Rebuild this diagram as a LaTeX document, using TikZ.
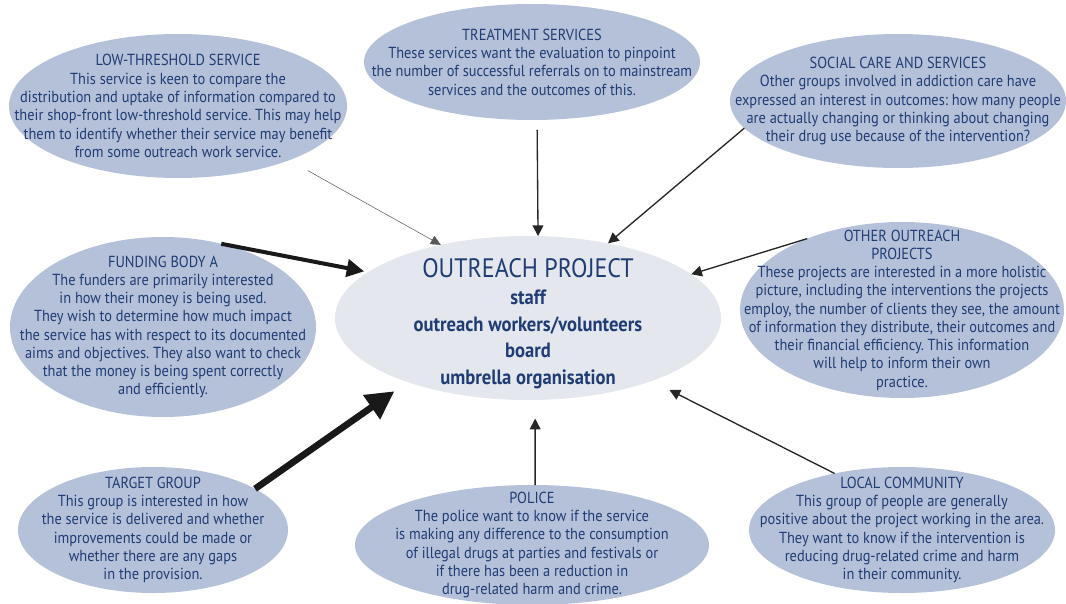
\documentclass[tikz,border=0pt]{standalone}
\usepackage{fontspec}
\setmainfont[FakeStretch=0.9]{PT Sans}
\usetikzlibrary{shapes.geometric,arrows.meta}
\definecolor{ink}{RGB}{31,60,116}
\definecolor{bubblefill}{RGB}{181,193,216}
\definecolor{hubfill}{RGB}{228,231,238}
\frenchspacing
\begin{document}
\begin{tikzpicture}[x=0.75pt,y=-0.75pt,
  bubble/.style={ellipse,fill=bubblefill,inner sep=0pt,outer sep=0pt},
  txt/.style={text=ink,align=center,font=\fontsize{12}{13.7}\selectfont},
  faint/.style={-{Triangle[length=7.5pt,width=7pt]},line width=0.4pt,draw=black!65},
  plain/.style={-{Triangle[length=8pt,width=8pt]},line width=1pt,draw=black!85},
  heavy/.style={-{Triangle[length=13pt,width=13pt]},line width=3pt,draw=black!90},
  heavier/.style={-{Triangle[length=21pt,width=21pt]},line width=5pt,draw=black!90}]
\useasboundingbox (0,0) rectangle (1066,603);
\node[bubble,minimum width=253.5pt,minimum height=108pt] (low) at (178,106) {};
\node[bubble,minimum width=252pt,minimum height=87pt] (treat) at (532,62) {};
\node[bubble,minimum width=252pt,minimum height=100.5pt] (social) at (898,101) {};
\node[bubble,minimum width=229.5pt,minimum height=135pt] (fund) at (163,327) {};
\node[bubble,fill=hubfill,minimum width=289.5pt,minimum height=123pt] (hub) at (528,318) {};
\node[bubble,minimum width=243pt,minimum height=132pt] (other) at (902,310) {};
\node[bubble,minimum width=202.5pt,minimum height=94.5pt] (target) at (153,530) {};
\node[bubble,minimum width=265.5pt,minimum height=90pt] (police) at (532,545) {};
\node[bubble,minimum width=229.5pt,minimum height=94.5pt] (local) at (902,530) {};
\node[txt] (lowtext) at (low) {LOW-THRESHOLD SERVICE\\This service is keen to compare the\\distribution and uptake of information compared to\\their shop-front low-threshold service. This may help\\them to identify whether their service may benefit\\from some outreach work service.};
\node[txt] (treattext) at (treat) {TREATMENT SERVICES\\These services want the evaluation to pinpoint\\the number of successful referrals on to mainstream\\services and the outcomes of this.};
\node[txt] (socialtext) at (social) {SOCIAL CARE AND SERVICES\\Other groups involved in addiction care have\\expressed an interest in outcomes: how many people\\are actually changing or thinking about changing\\their drug use because of the intervention?};
\node[txt] (fundtext) at (fund) {FUNDING BODY A\\The funders are primarily interested\\in how their money is being used.\\They wish to determine how much impact\\the service has with respect to its documented\\aims and objectives. They also want to check\\that the money is being spent correctly\\and efficiently.};
\node[txt,font=\fontsize{15.5}{20}\selectfont\bfseries] (hubtext) at ([yshift=-4.5pt]hub.center) {{\fontsize{20}{20}\mdseries\selectfont OUTREACH PROJECT}\\staff\\outreach workers/volunteers\\board\\umbrella organisation};
\node[txt] (othertext) at (other) {OTHER OUTREACH\\PROJECTS\\These projects are interested in a more holistic\\picture, including the interventions the projects\\employ, the number of clients they see, the amount\\of information they distribute, their outcomes and\\their financial efficiency. This information\\will help to inform their own\\practice.};
\node[txt] (targettext) at (target) {TARGET GROUP\\This group is interested in how\\the service is delivered and whether\\improvements could be made or\\whether there are any gaps\\in the provision.};
\node[txt] (policetext) at (police) {POLICE\\The police want to know if the service\\is making any difference to the consumption\\of illegal drugs at parties and festivals or\\if there has been a reduction in\\drug-related harm and crime.};
\node[txt] (localtext) at (local) {LOCAL COMMUNITY\\This group of people are generally\\positive about the project working in the area.\\They want to know if the intervention is\\reducing drug-related crime and harm\\in their community.};
\path (low.-26) edge[faint,shorten <=16pt] (hub.140);
\path (treat.-85) edge[plain,shorten <=7.5pt] (hub.83);
\path (social.190) edge[plain] (hub.43);
\path (fund.55) edge[heavy,shorten >=3pt] (hub.164);
\path (target.22) edge[heavier,shorten >=12pt] (hub.208);
\path (police.87) edge[plain,shorten >=14pt] (hub.-85);
\path (other.143) edge[plain] (hub.15);
\path (local.140) edge[plain,shorten >=15pt] (hub.-27);
\end{tikzpicture}
\end{document}
